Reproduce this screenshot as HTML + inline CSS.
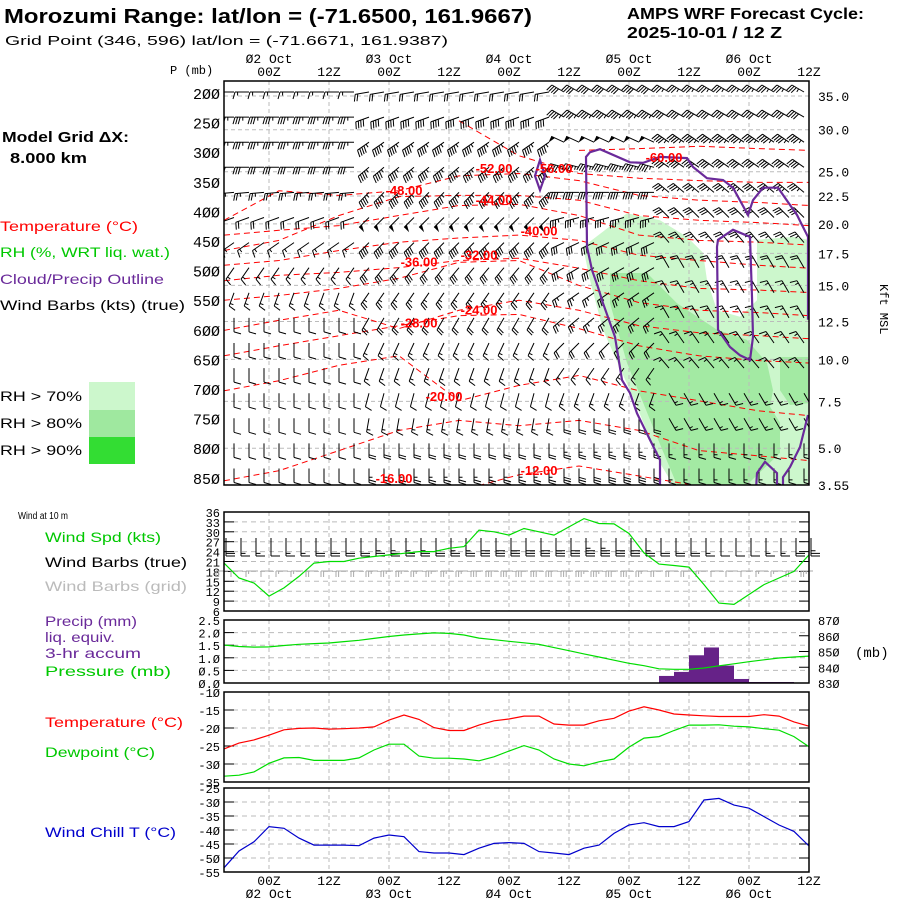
<!DOCTYPE html>
<html><head><meta charset="utf-8"><style>
html,body{margin:0;padding:0;background:#fff;}
svg{display:block;}
.mono{font-family:"Liberation Mono",monospace;}
.sans{font-family:"Liberation Sans",sans-serif;}
</style></head><body>
<svg id="chart" width="900" height="900" viewBox="0 0 900 900" xmlns="http://www.w3.org/2000/svg">
<rect width="900" height="900" fill="#fff"/>
<text class="sans" x="4" y="23" font-size="20" font-weight="bold" textLength="528" lengthAdjust="spacingAndGlyphs">Morozumi Range:  lat/lon = (-71.6500, 161.9667)</text>
<text class="sans" x="5" y="45" font-size="13" textLength="443" lengthAdjust="spacingAndGlyphs">Grid Point (346, 596) lat/lon = (-71.6671, 161.9387)</text>
<text class="sans" x="627" y="19" font-size="16" font-weight="bold" textLength="237" lengthAdjust="spacingAndGlyphs">AMPS WRF Forecast Cycle:</text>
<text class="sans" x="627" y="38" font-size="16" font-weight="bold" textLength="155" lengthAdjust="spacingAndGlyphs">2025-10-01 / 12  Z</text>
<text class="sans" x="2" y="142" font-size="15" font-weight="bold" textLength="127" lengthAdjust="spacingAndGlyphs">Model Grid ΔX:</text>
<text class="sans" x="10" y="163" font-size="15" font-weight="bold" textLength="77" lengthAdjust="spacingAndGlyphs">8.000 km</text>
<text class="sans" x="0" y="231" font-size="14" fill="#f00" textLength="138" lengthAdjust="spacingAndGlyphs">Temperature (°C)</text>
<text class="sans" x="0" y="257" font-size="14" fill="#00c800" textLength="170" lengthAdjust="spacingAndGlyphs">RH (%, WRT liq. wat.)</text>
<text class="sans" x="0" y="284" font-size="14" fill="#6a2a9a" textLength="164" lengthAdjust="spacingAndGlyphs">Cloud/Precip Outline</text>
<text class="sans" x="0" y="310" font-size="14" textLength="185" lengthAdjust="spacingAndGlyphs">Wind Barbs (kts) (true)</text>
<rect x="89" y="382" width="46" height="28" fill="#ccf7cc"/>
<rect x="89" y="410" width="46" height="27" fill="#9fe89f"/>
<rect x="89" y="437" width="46" height="27" fill="#33dd33"/>
<text class="sans" x="0" y="401" font-size="14" textLength="82" lengthAdjust="spacingAndGlyphs">RH &gt; 70%</text>
<text class="sans" x="0" y="428" font-size="14" textLength="82" lengthAdjust="spacingAndGlyphs">RH &gt; 80%</text>
<text class="sans" x="0" y="455" font-size="14" textLength="82" lengthAdjust="spacingAndGlyphs">RH &gt; 90%</text>
<text class="sans" x="18" y="519" font-size="10" textLength="50" lengthAdjust="spacingAndGlyphs">Wind at 10 m</text>
<text class="sans" x="45" y="542" font-size="14" fill="#00c800" textLength="116" lengthAdjust="spacingAndGlyphs">Wind Spd (kts)</text>
<text class="sans" x="45" y="567" font-size="14" textLength="142" lengthAdjust="spacingAndGlyphs">Wind Barbs (true)</text>
<text class="sans" x="45" y="591" font-size="14" fill="#bbb" textLength="142" lengthAdjust="spacingAndGlyphs">Wind Barbs (grid)</text>
<text class="sans" x="45" y="626" font-size="14" fill="#6a2a9a" textLength="92" lengthAdjust="spacingAndGlyphs">Precip (mm)</text>
<text class="sans" x="45" y="642" font-size="14" fill="#6a2a9a" textLength="70" lengthAdjust="spacingAndGlyphs">liq. equiv.</text>
<text class="sans" x="45" y="658" font-size="14" fill="#6a2a9a" textLength="96" lengthAdjust="spacingAndGlyphs">3-hr accum</text>
<text class="sans" x="45" y="676" font-size="14" fill="#00c800" textLength="126" lengthAdjust="spacingAndGlyphs">Pressure (mb)</text>
<text class="sans" x="45" y="727" font-size="14" fill="#f00" textLength="138" lengthAdjust="spacingAndGlyphs">Temperature (°C)</text>
<text class="sans" x="45" y="757" font-size="14" fill="#00c800" textLength="110" lengthAdjust="spacingAndGlyphs">Dewpoint (°C)</text>
<text class="sans" x="45" y="837" font-size="14" fill="#0000cc" textLength="131" lengthAdjust="spacingAndGlyphs">Wind Chill T (°C)</text>
<text class="mono" x="170" y="74" font-size="12">P (mb)</text>
<text class="mono" x="880" y="284" font-size="12" transform="rotate(90 880 284)">Kft MSL</text>
<text class="mono" x="855" y="657" font-size="14">(mb)</text>
<g id="layer"></g>
</svg>
<script>
// ---------- data ----------
const hours = [-9,-6,-3,0,3,6,9,12,15,18,21,24,27,30,33,36,39,42,45,48,51,54,57,60,63,66,69,72,75,78,81,84,87,90,93,96,99,102,105,108];
const windSpeed = [20.5,16,14.5,10.5,13,16.5,20.5,21,21,22,22.5,23,23.5,24,24,25,25.5,30.5,30,29,31,30,29,31.5,34,32.5,32.4,29.5,23.6,20.2,19.8,19.3,14,8.4,8,11,14,16,18,23];
const pressure = [854.1,853.2,852.8,852.9,853.8,854.6,855,855.4,856.3,857.1,858.3,859.5,860.5,861.2,861.8,861.5,860.5,858.5,857.5,856.5,855.5,854.5,852.5,850.5,848.5,846.5,844.5,842.5,841,839,838.7,838.7,839.5,840.9,842.2,843.5,844.7,845.9,846.5,847.1];
const precipEndHours = [81,84,87,90,93,96,99,102,105];
const precipValues = [0.28,0.44,1.1,1.41,0.69,0.16,0.04,0.04,0.04];
const temperature = [-25.8,-24.2,-23.3,-22,-20.5,-20.1,-20,-20.3,-20.2,-20,-19.7,-17.8,-16.4,-17.6,-19.9,-20.7,-20.7,-19.2,-18,-17.5,-16.7,-16.7,-18.9,-19.2,-19.2,-18,-17.3,-15.3,-14.1,-15,-16.1,-16.4,-16.6,-16.8,-16.8,-16.8,-16.3,-16.7,-18.3,-19.5];
const dewpoint = [-33.4,-33.1,-32.2,-29.8,-28.3,-28.2,-29,-29,-29,-28.3,-26.1,-24.5,-24.5,-27.8,-28.4,-28.4,-28.6,-29.1,-28,-26.4,-24.9,-26.1,-28.6,-30,-30.5,-29.4,-28.6,-25.3,-22.8,-22.4,-20.7,-19.2,-19.2,-19.1,-19.5,-19.7,-20.2,-20.6,-22.4,-25.2];
const windChill = [-53.5,-47.5,-44.2,-38.8,-39.4,-42.9,-45.4,-45.4,-45.4,-45.6,-42.9,-41.8,-42.4,-47.7,-48.2,-48.2,-48.8,-46.5,-44.8,-44.5,-44.8,-47.7,-48.2,-48.8,-46.5,-45.4,-41.2,-38.2,-37.4,-38.8,-38.8,-37,-29.3,-28.7,-31.1,-32.2,-35.2,-38.2,-40.5,-45.7];
const windDir10m = [180,180,180,180,180,180,180,180,180,180,180,180,180,180,180,180,180,180,180,180,180,180,180,180,180,180,180,180,180,180,180,180,180,180,180,180,180,180,180,180];
const timeTickHours = [0,12,24,36,48,60,72,84,96,108];
const timeTickLabels = ["00Z","12Z","00Z","12Z","00Z","12Z","00Z","12Z","00Z","12Z"];
const dayLabelHours = [0,24,48,72,96];
const dayLabels = ["02 Oct","03 Oct","04 Oct","05 Oct","06 Oct"];
const pLevels = [200,250,300,350,400,450,500,550,600,650,700,750,800,850];
const kftLabels = ["35.0","30.0","25.0","22.5","20.0","17.5","15.0","12.5","10.0","7.5","5.0","3.55"];
const kftPressure = [205,262,333,374,421,471,525,586,650,721,800,862];
// upper-air barbs: per row (16 rows top->bottom), 4 time segments
const barbSegStart = [-9,18,57,78];
const barbDirA = [270,270,270,270,265,250,235,215,200,180,180,180,180,180,180,180];
const barbDirB = [260,250,235,230,225,225,225,220,215,210,205,200,195,190,180,180];
const barbDirC = [300,300,295,285,270,255,245,240,235,230,225,215,200,180,180,180];
const barbDirD = [300,300,305,305,310,315,320,330,330,330,325,320,150,150,180,180];
const barbSpdA = [15,35,35,30,25,20,15,15,15,12,10,10,10,10,10,10];
const barbSpdB = [20,40,45,45,45,50,40,30,25,20,15,15,10,15,20,25];
const barbSpdC = [40,45,50,45,40,35,30,30,25,25,20,15,15,20,25,30];
const barbSpdD = [35,40,45,40,35,30,25,20,15,15,15,15,15,15,15,15];
// temperature contours (upper air)
const contourLevels = [-60,-56,-52,-48,-44,-40,-36,-32,-28,-24,-20,-16,-12];
const contourHours = [-9,2,14,26,38,50,62,74,86,98,108];
const contourPres = [
 [null,null,null,null,null,null,297,294,290,294,297],
 [null,null,null,null,247,306,336,344,348,351,351],
 [415,365,373,365,340,336,348,373,381,385,390],
 [466,449,407,375,373,373,381,407,415,419,424],
 [440,432,424,407,390,388,407,440,449,452,457],
 [491,483,466,452,445,440,449,474,483,491,496],
 [517,508,503,495,483,479,496,517,530,533,537],
 [550,542,530,513,486,483,525,554,567,571,576],
 [601,584,567,598,567,550,567,593,605,610,615],
 [644,627,610,593,576,574,598,627,644,652,656],
 [703,686,660,644,720,694,677,703,720,737,745],
 [855,838,804,770,753,762,753,770,804,813,821],
 [null,null,null,null,872,845,830,847,864,869,872]];
const contourLabelH = [79,57,45,27,45,54,30,42,30,42,35,25,54];
const contourLabelP = [308,327,327,364,380,432,485,473,588,566,712,850,837];
// RH / cloud regions in (hour, pressure)
const rh70Region = [[62.8,460],[71.6,403],[78.2,415],[83.6,443],[86.8,470],[87.6,516],[89.6,567],[94.2,578],[97.6,550],[97.6,448],[104.8,443],[107.8,448],[107.8,862],[80.8,862],[78.2,825],[72.8,714],[66.8,600],[64.2,516]];
const rh80Region = [[68.2,504],[75.6,504],[81.6,555],[89.6,600],[95.6,617],[99.6,656],[100.8,702],[100.2,730],[102.2,757],[102.2,808],[95.6,862],[81.6,862],[77.6,781],[71.6,656],[68.2,555]];
const rh80Blob = [[102.2,646],[107.8,646],[107.8,724],[104.2,727],[102.2,702]];
const cloudOutline = [[78.2,862],[78.2,820],[76.2,786],[73.6,741],[72.2,707],[70.6,685],[69.2,612],[66.8,555],[65.8,528],[64.6,499],[63.6,460],[63.4,308],[64.2,300],[66.2,295],[72.2,317],[74.8,318],[78.2,308],[83.6,310],[84.8,325],[87.6,344],[90.8,347],[92.8,360],[95.8,406],[96.8,381],[98.8,360],[101.8,360],[105.6,406],[107.8,443],[107.8,583]];
const cloudOutlineLow = [[107.8,744],[106.2,798],[104.2,832],[102.8,849],[102.8,870]];
const cloudOutlineBump = [[97.4,870],[97.6,842],[99.2,823],[101.6,842],[101.6,870]];
const cloudInner = [[89.8,448],[92.8,431],[96.2,443],[96.6,545],[96.8,612],[96.2,651],[94.2,643],[92.2,629],[89.8,600],[89.6,460]];
const cloudSmall = [[54.2,313],[55.2,340],[54.2,364],[53.2,340]];
const precipBarWidthHours = 3;

// ---------- scales ----------
const X0=269, PXH=5;
const xh = h => X0 + h*PXH;
const yp = p => 93 + (p-200)*0.592;
const ySpd = v => 611 - (v-6)*3.3;
const yPr = v => 683 - v*25.2;
const yMb = v => 683 - (v-830)*1.575;
const yT = v => 692 + (-10 - v)*3.6;
const yWc = v => 788 + (-25 - v)*2.8;

const NS="http://www.w3.org/2000/svg";
const layer=document.getElementById('layer');
function mk(tag, attrs, parent){const e=document.createElementNS(NS,tag);for(const k in attrs)e.setAttribute(k,attrs[k]);(parent||layer).appendChild(e);return e;}
const L=224, R=809;

// ---------- main panel ----------
const main=mk('g',{});


const clip=mk('clipPath',{id:'mclip'},main);
mk('rect',{x:L,y:81,width:R-L,height:404},clip);
const mg=mk('g',{'clip-path':'url(#mclip)'},main);
function ptsHP(arr){return arr.map(a=>xh(a[0]).toFixed(1)+','+yp(a[1]).toFixed(1)).join(' ');}
const r70=mk('polygon',{points:ptsHP(rh70Region),fill:'#ccf7cc'},mg);


const r80=mk('polygon',{points:ptsHP(rh80Region),fill:'#a3eaa3'},mg);


const r80b=mk('polygon',{points:ptsHP(rh80Blob),fill:'#a3eaa3'},mg);


// grid
timeTickHours.forEach(h=>{mk('line',{x1:xh(h),x2:xh(h),y1:81,y2:485,stroke:'#bbb','stroke-dasharray':'4,3'},mg);});
kftPressure.forEach(p=>{mk('line',{x1:L,x2:R,y1:yp(p),y2:yp(p),stroke:'#bbb','stroke-dasharray':'4,3'},mg);});
// contours
contourLevels.forEach((lv,i)=>{
  const pts=[];contourHours.forEach((h,j)=>{const p=contourPres[i][j];if(p!==null)pts.push(xh(h).toFixed(1)+','+yp(p).toFixed(1));});
  const c=mk('polyline',{points:pts.join(' '),fill:'none',stroke:'#f00','stroke-width':1,'stroke-dasharray':'6,4'},mg);
  
  
});
// barbs
function barb(g,x,y,dir,spd,len,color,w,slant){
  const r=dir*Math.PI/180, dx=Math.sin(r), dy=-Math.cos(r);
  const ex=x+dx*len, ey=y+dy*len;
  const px=dy, py=-dx;
  const sl=(slant===undefined)?2:slant;
  let d=`M${x.toFixed(1)},${y.toFixed(1)}L${ex.toFixed(1)},${ey.toFixed(1)}`;
  let s=Math.round(spd/5)*5, pos=0, fl='';
  const bl=len*0.5;
  while(s>=50){const ax=ex-dx*pos,ay=ey-dy*pos,bx=ex-dx*(pos+4),by=ey-dy*(pos+4);fl+=`M${ax.toFixed(1)},${ay.toFixed(1)}L${(ax+px*bl).toFixed(1)},${(ay+py*bl).toFixed(1)}L${bx.toFixed(1)},${by.toFixed(1)}Z`;pos+=5;s-=50;}
  while(s>=10){const ax=ex-dx*pos,ay=ey-dy*pos;d+=`M${ax.toFixed(1)},${ay.toFixed(1)}l${(px*bl+dx*sl).toFixed(1)},${(py*bl+dy*sl).toFixed(1)}`;pos+=2.6;s-=10;}
  if(s>=5){const ax=ex-dx*pos,ay=ey-dy*pos;d+=`M${ax.toFixed(1)},${ay.toFixed(1)}l${(px*bl*0.5).toFixed(1)},${(py*bl*0.5).toFixed(1)}`;}
  const e=mk('path',{d:d,fill:'none',stroke:color,'stroke-width':w||1},g);
  if(fl){mk('path',{d:fl,fill:color,stroke:'none'},g);}
  return e;
}
const bg=mk('g',{},mg);


for(let k=0;k<16;k++){
  const y=92+k*25.1;
  for(let h=-8.4;h<=108;h+=3){
    let si=0;for(let q=0;q<barbSegStart.length;q++)if(h>=barbSegStart[q])si=q;
    const dir=[barbDirA,barbDirB,barbDirC,barbDirD][si][k];
    const sp=[barbSpdA,barbSpdB,barbSpdC,barbSpdD][si][k];
    const b=barb(bg,xh(h)+7,y,dir,sp,14,'#000',1);
    
    
  }
}
// cloud outlines
[cloudOutline,cloudOutlineLow,cloudOutlineBump].forEach(a=>{
  const c=mk('polyline',{points:ptsHP(a),fill:'none',stroke:'#6a2a9a','stroke-width':2.2},mg);
  
  
});
[cloudInner,cloudSmall].forEach(a=>{
  const c=mk('polygon',{points:ptsHP(a),fill:'none',stroke:'#6a2a9a','stroke-width':2.2},mg);
  
  
});
// contour labels
contourLevels.forEach((lv,i)=>{
  const t=mk('text',{x:xh(contourLabelH[i]),y:yp(contourLabelP[i])+5,'font-size':13,'font-weight':'bold',fill:'#f00','text-anchor':'middle','font-family':'Liberation Sans, sans-serif'},main);
  t.textContent=lv.toFixed(2);
  
  
});
mk('rect',{x:L,y:81,width:R-L,height:404,fill:'none',stroke:'#000','stroke-width':1.5},main);
// pressure ticks
pLevels.forEach(p=>{
  const t=mk('text',{x:220,y:yp(p)+6,'font-size':15,'text-anchor':'end',class:'mono'},main);
  t.textContent=String(p).replace(/0/g,'Ø');
  
  
});
kftLabels.forEach((s,i)=>{
  const t=mk('text',{x:818,y:yp(kftPressure[i])+5,'font-size':13,class:'mono'},main);
  t.textContent=s;
  
  
});
timeTickHours.forEach((h,i)=>{
  const t=mk('text',{x:xh(h),y:76,'font-size':13,'text-anchor':'middle',class:'mono'},main);
  t.textContent=timeTickLabels[i];
  
  
  const b=mk('text',{x:xh(h),y:885,'font-size':13,'text-anchor':'middle',class:'mono'});
  b.textContent=timeTickLabels[i];
  
  
});
dayLabelHours.forEach((h,i)=>{
  const t=mk('text',{x:xh(h),y:63,'font-size':13,'text-anchor':'middle',class:'mono'},main);
  t.textContent=dayLabels[i].replace('0','Ø');
  
  
  const b=mk('text',{x:xh(h),y:898,'font-size':13,'text-anchor':'middle',class:'mono'});
  b.textContent=dayLabels[i].replace('0','Ø');
  
  
});

// ---------- lower panels ----------
function panel(name,top,bot,ticks,yf,leftLabels,rightTicks,yr,rightLabels){
  const g=mk('g',{});
  
  
  timeTickHours.forEach(h=>mk('line',{x1:xh(h),x2:xh(h),y1:top,y2:bot,stroke:'#bbb','stroke-dasharray':'4,3'},g));
  ticks.forEach((v,i)=>{const y=yf(v);
    if(y>top+1&&y<bot-1)mk('line',{x1:L,x2:R,y1:y,y2:y,stroke:'#bbb','stroke-dasharray':'5,4'},g);
    if(!rightTicks){mk('line',{x1:L,x2:L+10,y1:y,y2:y,stroke:'#000'},g);mk('line',{x1:R-10,x2:R,y1:y,y2:y,stroke:'#000'},g);}
    else mk('line',{x1:L,x2:L+10,y1:y,y2:y,stroke:'#000'},g);
    if(leftLabels){const t=mk('text',{x:220,y:y+5,'font-size':12,'text-anchor':'end',class:'mono'},g);t.textContent=leftLabels[i];
      
      }
  });
  if(rightTicks){rightTicks.forEach((v,i)=>{const y=yr(v);mk('line',{x1:R-10,x2:R,y1:y,y2:y,stroke:'#000'},g);
    const t=mk('text',{x:818,y:y+5,'font-size':12,class:'mono'},g);t.textContent=rightLabels[i];
    
    });}
  return g;
}
function line(g,vals,yf,color,name){
  const pts=hours.map((h,i)=>xh(h).toFixed(1)+','+yf(vals[i]).toFixed(1)).join(' ');
  const e=mk('polyline',{points:pts,fill:'none',stroke:color,'stroke-width':1.2},g);
  
  
}
const spdTicks=[6,9,12,15,18,21,24,27,30,33,36];
const gW=panel('wind-panel',512,611,spdTicks,ySpd,spdTicks.map(String));
hours.forEach((h,i)=>{
  const b=barb(gW,xh(h)+2,538,windDir10m[i],windSpeed[i],18,'#000',1,0);
  
  
  const c=barb(gW,xh(h)+4,571,270,windSpeed[i],12,'#aaa',1,0);
  
  
});
line(gW,windSpeed,ySpd,'#00dd00','wind-speed-line');
mk('rect',{x:L,y:512,width:R-L,height:99,fill:'none',stroke:'#000','stroke-width':1.5},gW);

const prTicks=[0,0.5,1,1.5,2,2.5];
const gP=panel('precip-pressure-panel',620,683,prTicks,yPr,prTicks.map(v=>v.toFixed(1).replace(/0/g,'Ø')),[830,840,850,860,870],yMb,["83Ø","84Ø","85Ø","86Ø","87Ø"]);
precipEndHours.forEach((h,i)=>{
  const x=xh(h-precipBarWidthHours), w=precipBarWidthHours*PXH;
  const r=mk('rect',{x:x,y:yPr(precipValues[i]),width:w,height:683-yPr(precipValues[i]),fill:'#662288'},gP);
  
  
});
line(gP,pressure,yMb,'#00dd00','pressure-line');
mk('rect',{x:L,y:620,width:R-L,height:63,fill:'none',stroke:'#000','stroke-width':1.5},gP);

const tTicks=[-10,-15,-20,-25,-30,-35];
const gT=panel('temperature-panel',692,782,tTicks,yT,["-1Ø","-15","-2Ø","-25","-3Ø","-35"]);
line(gT,temperature,yT,'#f00','temperature-line');
line(gT,dewpoint,yT,'#00dd00','dewpoint-line');
mk('rect',{x:L,y:692,width:R-L,height:90,fill:'none',stroke:'#000','stroke-width':1.5},gT);

const wcTicks=[-25,-30,-35,-40,-45,-50,-55];
const gC=panel('wind-chill-panel',788,872,wcTicks,yWc,["-25","-3Ø","-35","-4Ø","-45","-5Ø","-55"]);
line(gC,windChill,yWc,'#0000cc','wind-chill-line');
mk('rect',{x:L,y:788,width:R-L,height:84,fill:'none',stroke:'#000','stroke-width':1.5},gC);
</script>
</body></html>
